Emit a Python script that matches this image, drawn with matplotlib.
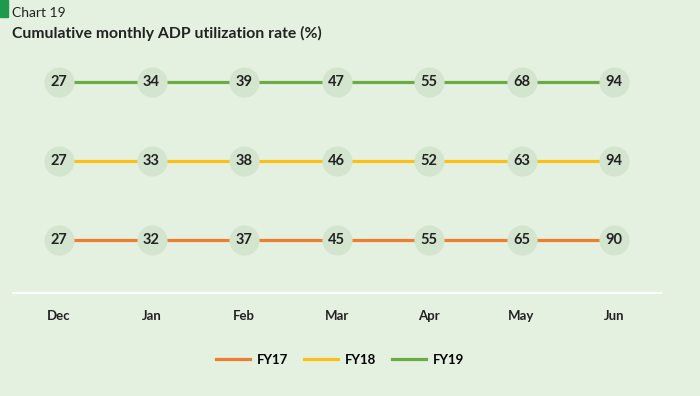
import matplotlib.pyplot as plt
from matplotlib.patches import Rectangle
from matplotlib.lines import Line2D

# colours
BG = "#e5f1e0"
DOT = "#d3e4cf"
ORANGE = "#ee7d2d"
YELLOW = "#fcbf14"
GREEN = "#6aac44"
TEXT = "#222222"

months = ["Dec", "Jan", "Feb", "Mar", "Apr", "May", "Jun"]
fy17 = [27, 32, 37, 45, 55, 65, 90]
fy18 = [27, 33, 38, 46, 52, 63, 94]
fy19 = [27, 34, 39, 47, 55, 68, 94]

series = [("FY17", fy17, ORANGE), ("FY18", fy18, YELLOW), ("FY19", fy19, GREEN)]

plt.rcParams["font.family"] = ["Lato", "DejaVu Sans"]

fig = plt.figure(figsize=(7, 3.96), dpi=100, facecolor=BG)
ax = fig.add_axes([0, 0, 1, 1])
ax.set_facecolor(BG)
ax.axis("off")

# map month index / row to pixel layout
step = 92.5
ax.set_xlim(-59 / step, (700 - 59) / step)
ax.set_ylim((240 - 396) / 79, 240 / 79)

x = list(range(len(months)))
for row, (name, vals, col) in enumerate(series):
    ax.plot(x, [row] * len(x), color=col, lw=2.3, zorder=1, solid_capstyle="butt")
    ax.scatter(x, [row] * len(x), s=470, color=DOT, zorder=2, linewidths=0)
    for xi, v in zip(x, vals):
        ax.text(xi, row, str(v), ha="center", va="center", fontsize=10.5,
                fontweight="bold", color=TEXT, zorder=3)

# baseline and month labels
ax.plot([(13 - 59) / step, (661 - 59) / step], [-0.671, -0.671], color="white", lw=1.5)
for xi, m in zip(x, months):
    ax.text(xi, -0.962, m, ha="center", va="center", fontsize=9.5,
            fontweight="bold", color=TEXT)

# header
fig.patches.append(Rectangle((0, 1 - 17 / 396), 8 / 700, 17 / 396,
                             transform=fig.transFigure, color="#1d9a4b"))
fig.text(12 / 700, 1 - 13 / 396, "Chart 19", fontsize=10, color=TEXT, va="center")
fig.text(12 / 700, 1 - 33 / 396, "Cumulative monthly ADP utilization rate (%)",
         fontsize=11.3, fontweight="bold", color=TEXT, va="center")

handles = [Line2D([0], [0], color=c, lw=2.3) for _, _, c in series]
fig.legend(handles, [n for n, _, _ in series], loc="center",
           bbox_to_anchor=(340 / 700, 1 - 360 / 396), ncol=3, frameon=False,
           handlelength=2.6, handletextpad=0.5, columnspacing=1.2,
           prop={"weight": "bold", "size": 9.5})

fig.savefig("out.png", dpi=100, facecolor=BG)
